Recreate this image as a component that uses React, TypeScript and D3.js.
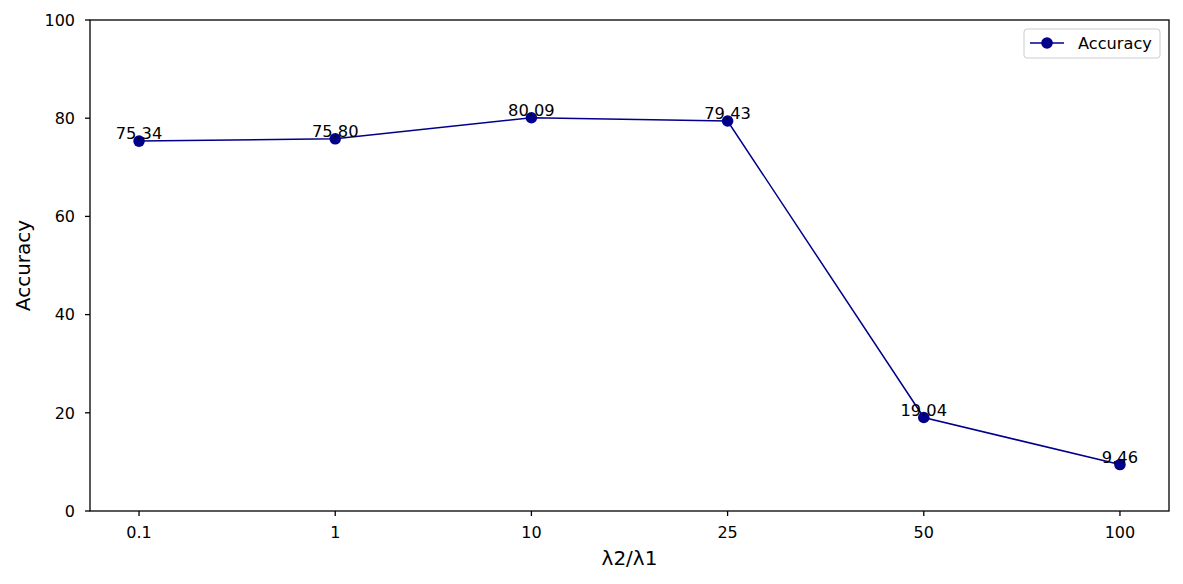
import React from "react";
import * as d3 from "d3";

const categories = ["0.1", "1", "10", "25", "50", "100"];
const accuracy = [75.34, 75.8, 80.09, 79.43, 19.04, 9.46];
const yTicks = [0, 20, 40, 60, 80, 100];

const W = 1183;
const H = 584;
const L = 90, R = 1169, T = 20, B = 511;
const COLOR = "#00008b";
const FONT = "DejaVu Sans, sans-serif";

export default function App() {
  const x = d3.scalePoint<string>().domain(categories).range([L, R]).padding(0.25);
  const y = d3.scaleLinear().domain([0, 100]).range([B, T]);
  const line = d3
    .line<number>()
    .x((_, i) => x(categories[i]) as number)
    .y((d) => y(d));

  return (
    <svg width={W} height={H} style={{ position: "absolute", left: 0, top: 0, background: "#fff" }} fontFamily={FONT}>
      <rect x={0} y={0} width={W} height={H} fill="#fff" />
      <path d={line(accuracy) || ""} fill="none" stroke={COLOR} strokeWidth={1.5} />
      {accuracy.map((v, i) => (
        <circle key={i} cx={x(categories[i])} cy={y(v)} r={5.8} fill={COLOR} />
      ))}
      {accuracy.map((v, i) => (
        <text key={"t" + i} x={x(categories[i])} y={y(v) - 2} textAnchor="middle" fontSize={16.3} fill="#000">
          {v.toFixed(2)}
        </text>
      ))}
      <rect x={L} y={T} width={R - L} height={B - T} fill="none" stroke="#000" strokeWidth={1.3} />
      {yTicks.map((t) => (
        <g key={"y" + t}>
          <line x1={L - 5} x2={L} y1={y(t)} y2={y(t)} stroke="#000" strokeWidth={1.3} />
          <text x={L - 15} y={y(t)} dy="0.36em" textAnchor="end" fontSize={16} fill="#000">
            {t}
          </text>
        </g>
      ))}
      {categories.map((c) => (
        <g key={"x" + c}>
          <line x1={x(c)} x2={x(c)} y1={B} y2={B + 5} stroke="#000" strokeWidth={1.3} />
          <text x={x(c)} y={B + 27} textAnchor="middle" fontSize={16} fill="#000">
            {c}
          </text>
        </g>
      ))}
      <text x={(L + R) / 2} y={565} textAnchor="middle" fontSize={20} fill="#000">
        λ2/λ1
      </text>
      <text transform={`translate(30,${(T + B) / 2}) rotate(-90)`} textAnchor="middle" fontSize={20} fill="#000">
        Accuracy
      </text>
      <g>
        <rect x={1024} y={29} width={136} height={29} rx={3} fill="#fff" stroke="#cccccc" strokeWidth={1} />
        <line x1={1030} x2={1064} y1={43} y2={43} stroke={COLOR} strokeWidth={1.5} />
        <circle cx={1047} cy={43} r={5.8} fill={COLOR} />
        <text x={1078} y={43} dy="0.36em" fontSize={16.2} fill="#000">
          Accuracy
        </text>
      </g>
    </svg>
  );
}
